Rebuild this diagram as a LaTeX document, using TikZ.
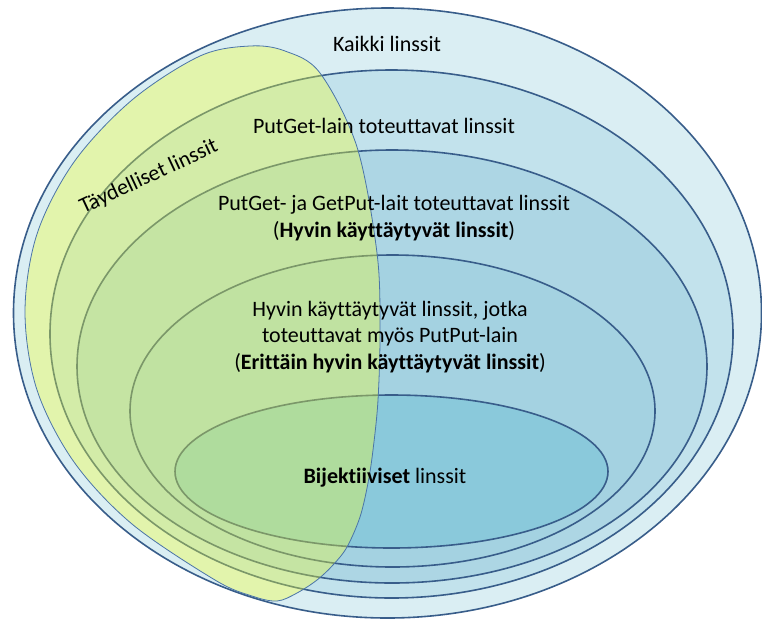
\documentclass[tikz,border=0pt]{standalone}
\usepackage{fontspec}
\setmainfont{Carlito}[Ligatures=CommonOff]
\usetikzlibrary{shapes.geometric}
\definecolor{ringline}{HTML}{385D8A}
\definecolor{fillA}{HTML}{DAEEF3}
\definecolor{fillB}{HTML}{C2E2EC}
\definecolor{fillC}{HTML}{ADD6E4}
\definecolor{fillD}{HTML}{A4D2E1}
\definecolor{fillE}{HTML}{8AC9DB}
\definecolor{blobfill}{HTML}{F2FF30}
\definecolor{blobline}{HTML}{4A74A8}
\tikzset{
  ring/.style={ellipse, draw=ringline, line width=1.6pt, inner sep=0pt, outer sep=0pt},
  lbl/.style={font=\fontsize{22}{26.5}\selectfont, align=center, inner sep=0pt, text=black},
  blob/.style={fill=blobfill, fill opacity=0.36, draw=blobline, draw opacity=1, line width=0.8pt}
}
\begin{document}
\begin{tikzpicture}[x=1pt,y=-1pt]
\useasboundingbox (0,0) rectangle (762,619);
\node[ring, fill=fillA, minimum width=748pt, minimum height=610pt] (all) at (387.5,313) {};
\node[ring, fill=fillB, minimum width=683pt, minimum height=528pt] (putget) at (391.5,334) {};
\node[ring, fill=fillC, minimum width=630pt, minimum height=433pt] (wellb) at (392,366.5) {};
\node[ring, fill=fillD, minimum width=525pt, minimum height=312pt] (verywell) at (392.5,411) {};
\node[ring, fill=fillE, minimum width=433pt, minimum height=153pt] (bij) at (391.5,471.5) {};
\path[blob] plot[smooth cycle, tension=0.55] coordinates {
  (250,46) (200,56) (132,100) (74,162) (37,234) (25,312) (37,390) (74,462)
  (132,524) (215,580) (252,596) (277,601) (297,593) (317,580) (333,565)
  (347,547) (360,517) (368,483) (373,450) (378,400) (380,330) (377,253)
  (357,147) (320,73) (285,51)};
\node[lbl] (tall) at (387,44) {Kaikki linssit};
\node[lbl] (tputget) at (384,126) {PutGet-lain toteuttavat linssit};
\node[lbl] (twellb) at (394,218) {PutGet- ja GetPut-lait toteuttavat linssit\\(\textbf{Hyvin käyttäytyvät linssit})};
\node[lbl] (tverywell) at (390,337) {Hyvin käyttäytyvät linssit, jotka\\toteuttavat myös PutPut-lain\\(\textbf{Erittäin hyvin käyttäytyvät linssit})};
\node[lbl] (tbij) at (385,478) {\textbf{Bijektiiviset} linssit};
\node[lbl, rotate=25] (tperfect) at (149,177) {Täydelliset linssit};
\end{tikzpicture}
\end{document}
